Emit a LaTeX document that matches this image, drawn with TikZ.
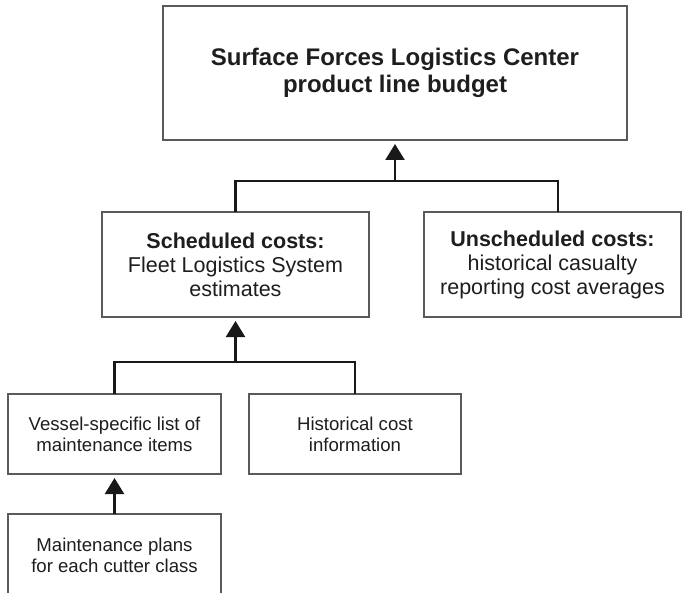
\documentclass[tikz,border=0pt]{standalone}
\usepackage{fontspec}
\setmainfont{Liberation Sans}
\usetikzlibrary{arrows.meta}
\definecolor{boxline}{HTML}{5A5A5A}
\definecolor{txt}{HTML}{1E1E1E}
\tikzset{
  box/.style={draw=boxline, line width=1.3pt, fill=white, inner sep=0pt, outer sep=0pt, align=center, text=txt},
  titlefont/.style={font=\fontsize{24}{26.5}\selectfont\bfseries},
  midfont/.style={font=\fontsize{21.5}{24}\selectfont},
  lowfont/.style={font=\fontsize{18.6}{21}\selectfont},
  conn/.style={draw=black!90, line width=2.3pt},
  arr/.style={-{Triangle[length=16pt,width=19pt]}, shorten >=4pt},
}
\begin{document}
\begin{tikzpicture}[x=1pt,y=-1pt]
\useasboundingbox[fill=white] (0,0) rectangle (682,593);

\node[box, titlefont, minimum width=464pt, minimum height=134pt] (top) at (395,73)
  {Surface Forces Logistics Center\\product line budget};
\node[box, midfont, minimum width=267pt, minimum height=105pt] (sched) at (235.5,264.5)
  {\textbf{Scheduled costs:}\\Fleet Logistics System\\estimates};
\node[box, midfont, minimum width=257pt, minimum height=105pt] (unsched) at (552.5,264.5)
  {\textbf{Unscheduled costs:}\\historical casualty\\reporting cost averages};
\node[box, lowfont, minimum width=213pt, minimum height=80pt] (vessel) at (114.5,434)
  {Vessel-specific list of\\maintenance items};
\node[box, lowfont, minimum width=212pt, minimum height=80pt] (hist) at (355,434)
  {Historical cost\\information};
\node[box, lowfont, minimum width=213pt, minimum height=82pt] (maint) at (114.5,555)
  {Maintenance plans\\for each cutter class};

\coordinate (j1) at (395,181);
\coordinate (j1r) at (558,181);
\coordinate (j2) at (235.5,362);

\draw[conn] (sched.north) -- (sched.north |- j1) -- (j1r) -- (j1r |- unsched.north);
\draw[conn, arr] (j1) -- (top.south);

\draw[conn] (vessel.north) -- (vessel.north |- j2) -- (hist.north |- j2) -- (hist.north);
\draw[conn, arr] (j2) -- (sched.south);

\draw[conn, arr] (maint.north) -- (vessel.south);
\end{tikzpicture}
\end{document}
